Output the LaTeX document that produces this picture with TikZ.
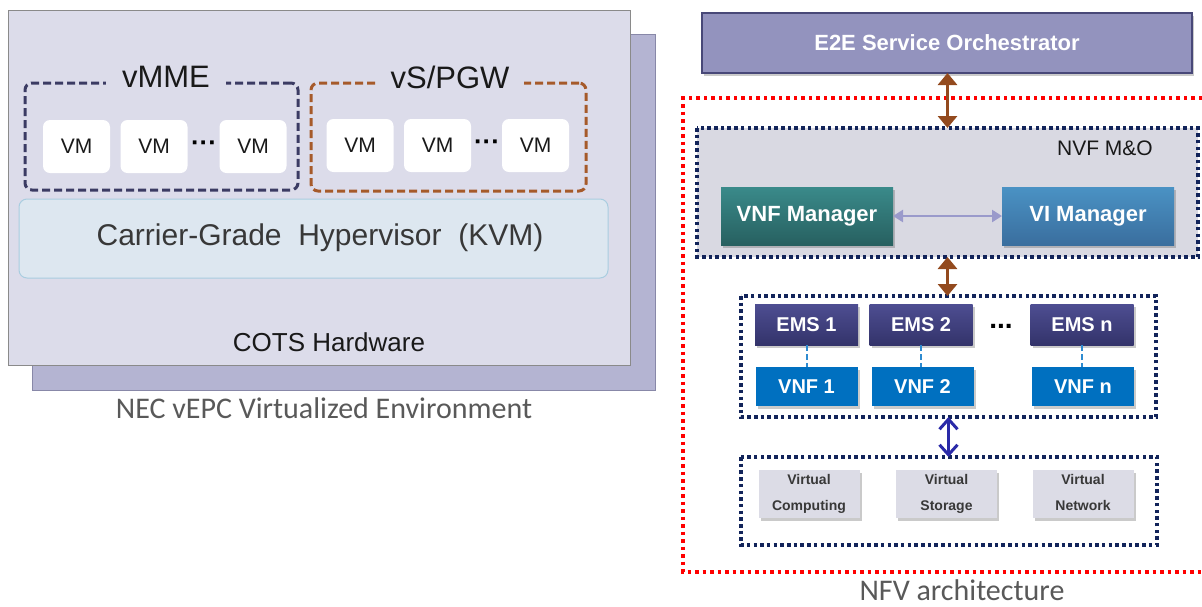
\documentclass[tikz,border=0pt]{standalone}
\usepackage{fontspec}
\setmainfont{Liberation Sans}
\newfontfamily\capfont{Carlito}
\usetikzlibrary{arrows.meta,shadows}
\definecolor{frontfill}{HTML}{DCDCEA}
\definecolor{frontline}{HTML}{8A8A8A}
\definecolor{backfill}{HTML}{B4B4D2}
\definecolor{backline}{HTML}{8888A8}
\definecolor{mmecol}{HTML}{3B3B63}
\definecolor{gwcol}{HTML}{A65A2A}
\definecolor{hypfill}{HTML}{DDE7F0}
\definecolor{hypline}{HTML}{A9CDE0}
\definecolor{textgray}{HTML}{383838}
\definecolor{capgray}{HTML}{595959}
\definecolor{e2efill}{HTML}{9393BE}
\definecolor{e2eline}{HTML}{484878}
\definecolor{navy}{HTML}{12245A}
\definecolor{mofill}{HTML}{D9D9E2}
\definecolor{tealtop}{HTML}{3A8A8A}
\definecolor{tealbot}{HTML}{276060}
\definecolor{bluetop}{HTML}{4A92C4}
\definecolor{bluebot}{HTML}{3A6E9E}
\definecolor{emstop}{HTML}{4E4E92}
\definecolor{emsbot}{HTML}{33336A}
\definecolor{vnfblue}{HTML}{0070C0}
\definecolor{virtfill}{HTML}{DCDCE6}
\definecolor{brownarr}{HTML}{934A1E}
\definecolor{bluearr}{HTML}{2A2AA8}
\definecolor{lavarr}{HTML}{9A9ACB}
\definecolor{linkblue}{HTML}{2E8BD0}
\tikzset{
  box/.style={rectangle,inner sep=0pt,outer sep=0pt},
  backrect/.style={box,fill=backfill,draw=backline,line width=1pt},
  frontrect/.style={box,fill=frontfill,draw=frontline,line width=1pt},
  grpbox/.style={box,draw=#1,line width=3pt,dash pattern=on 8pt off 4pt,rounded corners=7pt},
  grplabel/.style={box,fill=frontfill,inner xsep=16pt,inner ysep=2pt,font=\fontsize{31}{34}\selectfont,text=black!90},
  vmbox/.style={box,fill=white,rounded corners=7pt,minimum width=67pt,minimum height=53pt,font=\fontsize{21}{24}\selectfont,text=black!90},
  vmdots/.style={font=\bfseries\fontsize{26}{28}\selectfont,inner sep=0pt},
  hypbox/.style={box,fill=hypfill,draw=hypline,line width=1pt,rounded corners=8pt},
  shad/.style={drop shadow={shadow xshift=2pt,shadow yshift=-3pt,opacity=.35,fill=black!60}},
  e2ebox/.style={box,shad,fill=e2efill,draw=e2eline,line width=1.5pt,text=white,font=\bfseries\fontsize{22}{24}\selectfont},
  dotnavy/.style={navy,line width=3.5pt,dash pattern=on 3.5pt off 3.2pt},
  dotred/.style={red,line width=3.5pt,dash pattern=on 3.5pt off 4pt},
  mgrbox/.style={box,shad,top color=#1top,bottom color=#1bot,text=white,font=\bfseries\fontsize{22}{24}\selectfont},
  emsbox/.style={box,shad,top color=emstop,bottom color=emsbot,minimum width=103pt,minimum height=41pt,text=white,font=\bfseries\fontsize{20}{22}\selectfont},
  vnfbox/.style={box,shad,fill=vnfblue,minimum width=102pt,minimum height=39pt,text=white,font=\bfseries\fontsize{20}{22}\selectfont},
  virtbox/.style={box,shad,fill=virtfill,minimum width=101pt,minimum height=48pt,text=textgray,align=center,font=\bfseries\fontsize{14}{26}\selectfont},
  brownarrow/.style={brownarr,line width=3pt,{Triangle[width=19pt,length=12pt]}-{Triangle[width=19pt,length=12pt]}},
  bluearrow/.style={bluearr,line width=3pt,{Straight Barb[width=18pt,length=10pt]}-{Straight Barb[width=18pt,length=10pt]}},
  lavarrow/.style={lavarr,line width=2.5pt,{Triangle[width=12pt,length=10pt]}-{Triangle[width=12pt,length=10pt]}},
  linkline/.style={linkblue,line width=2pt,dash pattern=on 6pt off 3pt},
  caption/.style={font=\capfont\fontsize{30}{32}\selectfont,text=capgray,inner sep=0pt,anchor=base}
}
\begin{document}
\begin{tikzpicture}[x=1pt,y=-1pt]
\useasboundingbox (0,0) rectangle (1202,606);
% ---------- left: NEC vEPC ----------
\node[backrect,minimum width=623pt,minimum height=356pt] (back) at (343.5,212) {};
\node[frontrect,minimum width=622pt,minimum height=355pt] (front) at (319,188) {};
\node[grpbox=mmecol,minimum width=273pt,minimum height=107pt] (mme) at (161.5,136.5) {};
\node[grplabel] (mmelabel) at (166,77) {vMME};
\node[grpbox=gwcol,minimum width=275pt,minimum height=108pt] (gw) at (448.5,137) {};
\node[grplabel,inner xsep=15pt] (gwlabel) at (450,77) {vS/PGW};
\node[vmbox] (vm1) at (76.5,146.5) {VM};
\node[vmbox] (vm2) at (154,146.5) {VM};
\node[vmbox] (vm3) at (253,146.5) {VM};
\node[vmdots] (vmdots1) at (204,146) {\textperiodcentered\textperiodcentered\textperiodcentered};
\node[vmbox] (vm4) at (360,145.5) {VM};
\node[vmbox] (vm5) at (437.5,145.5) {VM};
\node[vmbox] (vm6) at (535.5,145.5) {VM};
\node[vmdots] (vmdots2) at (487,145) {\textperiodcentered\textperiodcentered\textperiodcentered};
\node[hypbox,minimum width=589pt,minimum height=79pt] (hyp) at (313.5,238.5) {};
\node[text=textgray,font=\fontsize{30}{32}\selectfont] (hyptext) at (320,238) {Carrier-Grade\ \ Hypervisor\ \ (KVM)};
\node[text=black!90,font=\fontsize{26}{28}\selectfont] (cots) at (329,342) {COTS Hardware};
\node[caption] (leftcap) at (324,418) {NEC vEPC Virtualized Environment};
% ---------- right: NFV architecture ----------
\draw[dotred] (1202,98) -- (683,98) -- (683,572) -- (1202,572);
\node[e2ebox,minimum width=490pt,minimum height=60pt] (e2e) at (947,43) {E2E Service Orchestrator};
\node[box,fill=mofill,minimum width=501pt,minimum height=129pt] (mo) at (947.5,192.5) {};
\draw[dotnavy] (mo.north west) rectangle (mo.south east);
\node[font=\fontsize{21}{24}\selectfont,text=black!90] (molabel) at (1105,148) {NVF M\&O};
\node[mgrbox=teal,minimum width=172pt,minimum height=58pt] (vnfm) at (807,216) {VNF Manager};
\node[mgrbox=blue,minimum width=172pt,minimum height=58pt] (vim) at (1088,216) {VI Manager};
\draw[lavarrow] (vnfm.east) -- (vim.west);
\node[box,minimum width=415pt,minimum height=121pt] (ve) at (948.5,356.5) {};
\draw[dotnavy] (ve.north west) rectangle (ve.south east);
\node[emsbox] (ems1) at (806.5,324.5) {EMS 1};
\node[emsbox] (ems2) at (921,324.5) {EMS 2};
\node[emsbox] (emsn) at (1082,324.5) {EMS n};
\node[font=\bfseries\fontsize{28}{30}\selectfont] (emsdots) at (1001,326) {...};
\node[vnfbox] (vnf1) at (806.5,386.5) {VNF 1};
\node[vnfbox] (vnf2) at (922.5,386.5) {VNF 2};
\node[vnfbox] (vnfn) at (1083,386.5) {VNF n};
\draw[linkline] (ems1.south) -- (ems1.south |- vnf1.north);
\draw[linkline] (ems2.south) -- (ems2.south |- vnf2.north);
\draw[linkline] (emsn.south) -- (emsn.south |- vnfn.north);
\node[box,minimum width=416pt,minimum height=88pt] (vr) at (949,501) {};
\draw[dotnavy] (vr.north west) rectangle (vr.south east);
\node[virtbox] (vcomp) at (809,494) {Virtual\\Computing};
\node[virtbox] (vstor) at (946.5,494) {Virtual\\Storage};
\node[virtbox] (vnet) at (1083,494) {Virtual\\Network\vphantom{g}};
\draw[brownarrow] (e2e.south -| mo.north) -- (mo.north);
\draw[brownarrow] (mo.south) -- (mo.south |- ve.north);
\draw[bluearrow] (ve.south) -- (ve.south |- vr.north);
\node[caption] (rightcap) at (962,600) {NFV architecture};
\end{tikzpicture}
\end{document}
